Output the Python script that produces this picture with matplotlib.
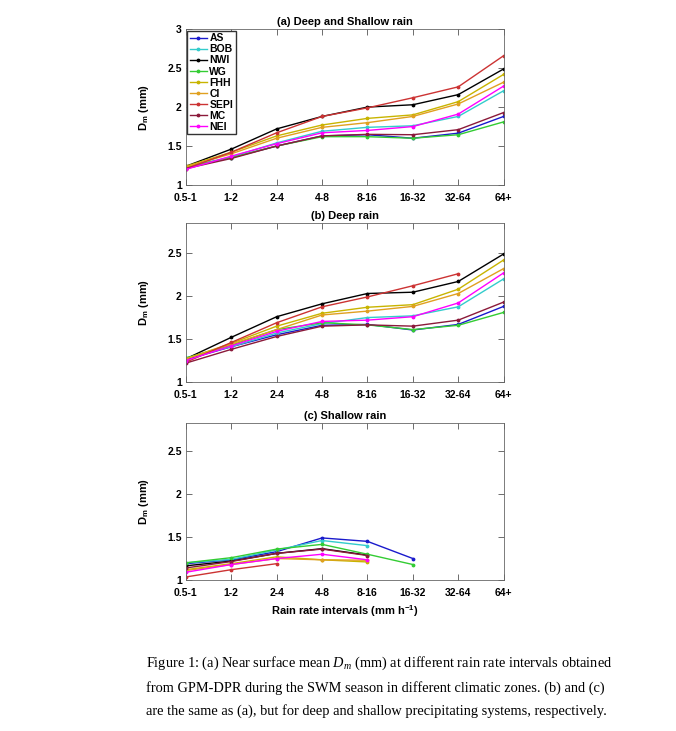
import numpy as np
import matplotlib.pyplot as plt

plt.rcParams['font.family'] = 'Liberation Sans'
plt.rcParams['mathtext.fontset'] = 'custom'
plt.rcParams['mathtext.rm'] = 'Liberation Sans:bold'
plt.rcParams['mathtext.bf'] = 'Liberation Sans:bold'
plt.rcParams['mathtext.it'] = 'Liberation Serif:italic'

# Rain rate intervals
intervals = ['0.5-1', '1-2', '2-4', '4-8', '8-16', '16-32', '32-64', '64+']
zones = ['AS', 'BOB', 'NWI', 'WG', 'FHH', 'CI', 'SEPI', 'MC', 'NEI']
colors = ['#1a1acc', '#33cccc', '#000000', '#33cc33', '#c8b400',
          '#e0a020', '#cc3333', '#8b1a3a', '#ff00ff']
nan = np.nan

# (a) Deep and shallow rain, mean Dm (mm)
dm_all = {
    'AS':   [1.23, 1.35, 1.50, 1.63, 1.645, 1.60, 1.665, 1.88],
    'BOB':  [1.23, 1.36, 1.54, 1.69, 1.74, 1.76, 1.88, 2.21],
    'NWI':  [1.24, 1.46, 1.72, 1.88, 2.00, 2.03, 2.16, 2.49],
    'WG':   [1.23, 1.35, 1.50, 1.62, 1.62, 1.60, 1.645, 1.81],
    'FHH':  [1.24, 1.42, 1.63, 1.77, 1.855, 1.90, 2.07, 2.42],
    'CI':   [1.23, 1.40, 1.60, 1.74, 1.80, 1.88, 2.04, 2.32],
    'SEPI': [1.21, 1.42, 1.67, 1.88, 1.99, 2.12, 2.26, 2.66],
    'MC':   [1.21, 1.34, 1.50, 1.63, 1.65, 1.645, 1.71, 1.93],
    'NEI':  [1.20, 1.37, 1.53, 1.67, 1.70, 1.75, 1.91, 2.27],
}

# (b) Deep rain
dm_deep = {
    'AS':   [1.26, 1.41, 1.55, 1.66, 1.67, 1.605, 1.67, 1.88],
    'BOB':  [1.28, 1.41, 1.57, 1.68, 1.75, 1.77, 1.875, 2.20],
    'NWI':  [1.27, 1.52, 1.76, 1.91, 2.03, 2.045, 2.17, 2.49],
    'WG':   [1.28, 1.43, 1.61, 1.69, 1.665, 1.61, 1.66, 1.81],
    'FHH':  [1.27, 1.45, 1.65, 1.80, 1.87, 1.90, 2.08, 2.42],
    'CI':   [1.27, 1.44, 1.61, 1.78, 1.825, 1.88, 2.03, 2.32],
    'SEPI': [1.23, 1.46, 1.69, 1.875, 1.99, 2.12, 2.26, nan],
    'MC':   [1.22, 1.38, 1.53, 1.65, 1.665, 1.65, 1.72, 1.93],
    'NEI':  [1.25, 1.42, 1.59, 1.705, 1.72, 1.76, 1.92, 2.27],
}

# (c) Shallow rain
dm_shallow = {
    'AS':   [1.19, 1.235, 1.33, 1.49, 1.45, 1.25, nan, nan],
    'BOB':  [1.20, 1.24, 1.35, 1.46, 1.40, nan, nan, nan],
    'NWI':  [1.165, 1.22, 1.31, 1.365, 1.29, nan, nan, nan],
    'WG':   [1.20, 1.26, 1.36, 1.415, 1.30, 1.18, nan, nan],
    'FHH':  [1.12, 1.19, 1.27, 1.235, 1.21, nan, nan, nan],
    'CI':   [1.11, 1.18, 1.25, 1.235, 1.23, nan, nan, nan],
    'SEPI': [1.035, 1.12, 1.19, nan, nan, nan, nan, nan],
    'MC':   [1.14, 1.215, 1.31, 1.36, 1.285, nan, nan, nan],
    'NEI':  [1.09, 1.18, 1.25, 1.30, 1.235, nan, nan, nan],
}

panels = [
    ('(a) Deep and Shallow rain', dm_all, [0.275, 0.747, 0.470, 0.213], (1, 3), [1, 1.5, 2, 2.5, 3]),
    ('(b) Deep rain', dm_deep, [0.275, 0.4774, 0.470, 0.2175], (1, 2.85), [1, 1.5, 2, 2.5]),
    ('(c) Shallow rain', dm_shallow, [0.275, 0.2066, 0.470, 0.2148], (1, 2.83), [1, 1.5, 2, 2.5]),
]

fig = plt.figure(figsize=(6.76, 7.31), dpi=100)
x = np.arange(len(intervals))
for title, data, pos, ylim, yticks in panels:
    ax = fig.add_axes(pos)
    for z, c in zip(zones, colors):
        ax.plot(x, data[z], color=c, linewidth=1, marker='.', markersize=3.5, label=z)
    ax.set_xlim(0, len(intervals) - 1)
    ax.set_ylim(*ylim)
    ax.set_xticks(x)
    ax.set_xticklabels(intervals, fontsize=7.5, fontweight='bold')
    ax.set_yticks(yticks)
    ax.set_yticklabels([f'{t:g}' for t in yticks], fontsize=7.5, fontweight='bold')
    ax.tick_params(direction='in', top=True, right=True, length=4, width=0.6,
                   color='#555555')
    ax.tick_params(axis='x', pad=6)
    ax.tick_params(axis='y', pad=3)
    for s in ax.spines.values():
        s.set_color('#666666')
        s.set_linewidth(0.6)
    ax.set_title(title, fontsize=8, fontweight='bold', pad=3)
    ax.set_ylabel(r'$\mathbf{D_m}$ (mm)', fontsize=8, fontweight='bold', labelpad=12)
    if data is dm_all:
        ax.legend(loc='upper left', prop={'weight': 'bold', 'size': 7.5},
                  handlelength=1.6, handletextpad=0.25, labelspacing=0.1,
                  borderpad=0.25, borderaxespad=0.15, fancybox=False,
                  edgecolor='#333333', framealpha=1)
    if data is dm_shallow:
        ax.set_xlabel(r'Rain rate intervals (mm h$^{\mathbf{-1}}$)', fontsize=8,
                      fontweight='bold', labelpad=4)

caption = ('Figure 1: (a) Near surface mean $D_m$ (mm) at different rain rate intervals obtained\n'
           'from GPM-DPR during the SWM season in different climatic zones. (b) and (c)\n'
           'are the same as (a), but for deep and shallow precipitating systems, respectively.')
fig.text(0.2165, 0.0616, caption, fontsize=10.35, family='Liberation Serif',
         ha='left', va='center', linespacing=1.85)

fig.savefig('out.png', dpi=100)
